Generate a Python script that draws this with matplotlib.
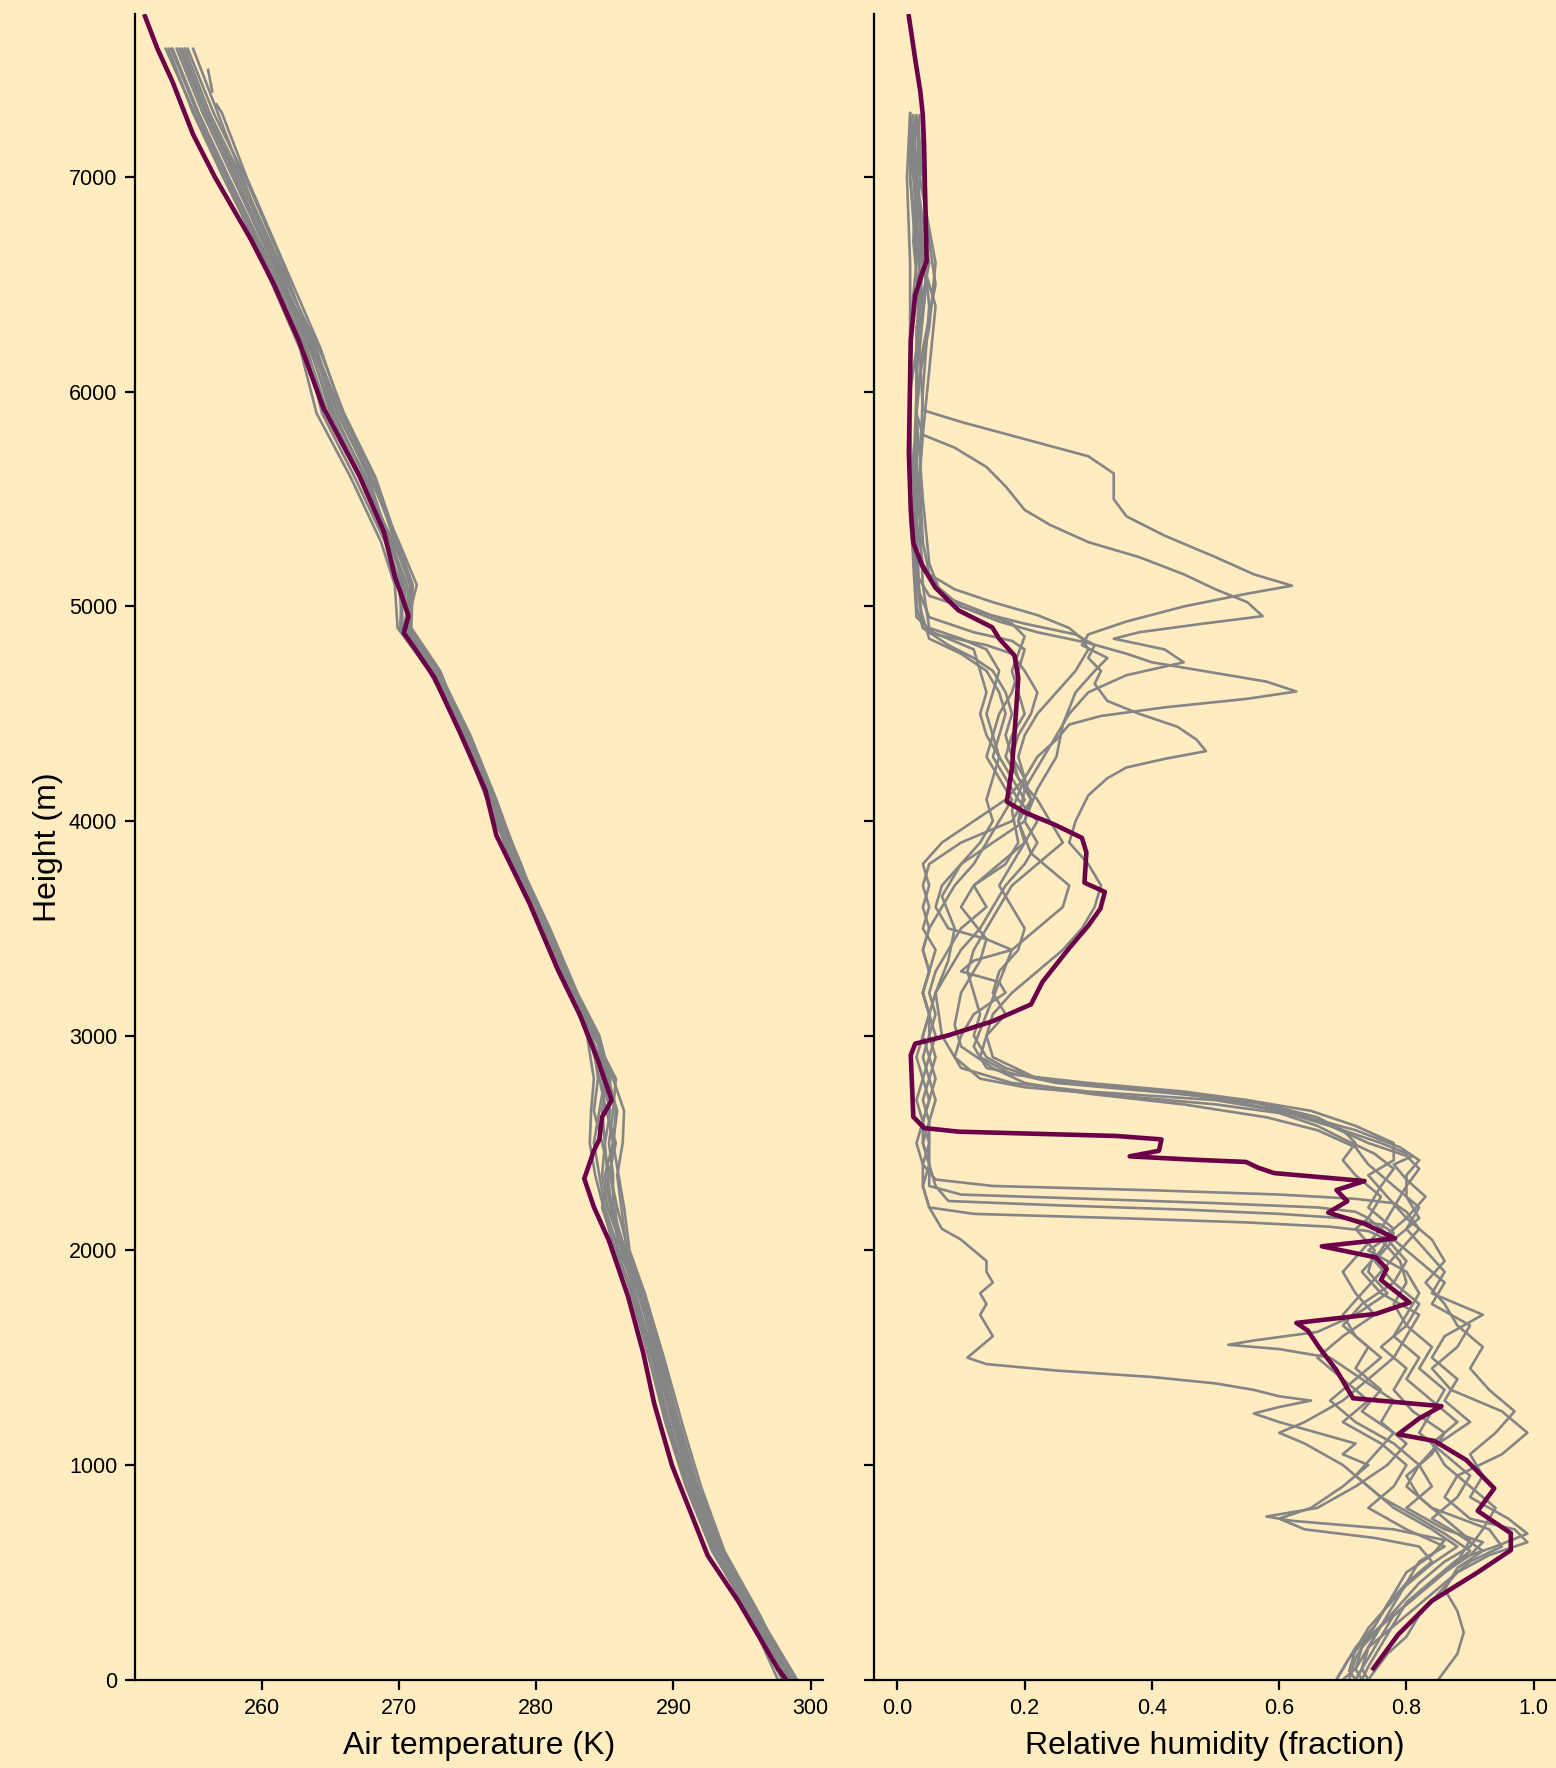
import numpy as np
import matplotlib
matplotlib.use("Agg")
import matplotlib.pyplot as plt

plt.rcParams['font.family'] = ['Liberation Sans', 'DejaVu Sans']

BG = '#FFECC1'
GREY = '#858585'
PURPLE = '#6B0049'

# ---------------- Temperature data ----------------
temp_heights = [7600, 7300, 7000, 6600, 6200, 5900, 5600, 5300, 5100, 4900, 4700, 4400,
                4100, 3800, 3500, 3200, 3000, 2800, 2650, 2500, 2350, 2200, 2000, 1800,
                1500, 1200, 900, 600, 300, 0]

temp_g1 = [253.5, 255.4, 257.6, 260.6, 263.5, 265.2, 267.6, 269.4, 270.6, 270.8, 272.8, 275.0, 276.8, 278.6, 280.8, 282.8, 284.0, 285.2, 285.9, 285.6, 285.0, 285.4, 286.2, 287.2, 288.6, 289.6, 291.2, 293.0, 295.8, 298.6]
temp_g2 = [254.0, 255.9, 258.1, 260.9, 263.9, 265.8, 268.0, 269.8, 271.0, 270.9, 273.0, 274.9, 276.6, 278.5, 280.9, 282.9, 284.3, 285.6, 286.4, 286.3, 285.9, 286.2, 286.6, 287.7, 289.0, 290.1, 291.5, 293.3, 296.0, 298.8]
temp_g3 = [253.2, 255.0, 257.2, 260.3, 263.2, 264.4, 266.8, 269.0, 270.2, 270.1, 272.4, 274.8, 276.9, 278.9, 280.6, 282.6, 284.1, 284.5, 284.2, 284.8, 285.4, 285.8, 285.9, 286.9, 288.2, 289.4, 290.9, 292.8, 295.6, 298.4]
temp_g4 = [254.4, 256.2, 258.5, 261.3, 264.0, 265.5, 267.9, 270.0, 271.3, 270.5, 272.6, 275.1, 277.0, 278.7, 280.7, 282.7, 284.4, 285.0, 284.6, 284.2, 284.6, 285.0, 286.0, 287.4, 288.9, 290.0, 291.4, 293.2, 295.9, 298.7]
temp_g5 = [253.0, 255.1, 257.4, 260.1, 262.8, 264.0, 266.5, 268.7, 269.7, 269.9, 272.2, 274.6, 276.4, 278.3, 280.5, 282.5, 283.7, 284.2, 284.0, 283.9, 284.3, 284.9, 285.7, 287.0, 288.4, 289.5, 291.0, 292.9, 295.5, 297.6]
temp_g6 = [253.8, 255.7, 257.9, 260.8, 263.6, 265.0, 267.3, 269.6, 270.9, 270.7, 272.9, 275.2, 277.1, 278.8, 281.0, 283.0, 284.6, 285.4, 285.2, 285.6, 286.0, 286.4, 286.8, 287.9, 289.2, 290.3, 291.7, 293.5, 296.1, 298.9]
temp_g7 = [255.0, 256.8, 258.6, 261.0, 263.7, 265.6, 267.8, 269.3, 270.4, 270.6, 272.7, 274.9, 276.7, 278.4, 280.6, 282.7, 284.0, 284.8, 285.4, 285.0, 284.8, 285.2, 286.3, 287.5, 288.7, 289.9, 291.3, 293.1, 295.7, 298.5]
temp_g8 = [254.6, 256.5, 258.8, 261.5, 263.8, 265.3, 267.5, 269.5, 270.3, 270.2, 272.5, 274.7, 276.6, 278.2, 280.4, 282.6, 284.2, 285.8, 285.6, 285.3, 285.6, 285.6, 286.4, 287.6, 288.8, 290.2, 291.6, 293.4, 295.9, 298.3]
temp_g9 = [253.4, 255.3, 257.5, 260.4, 263.3, 264.8, 267.2, 269.2, 270.0, 270.3, 272.3, 274.6, 276.5, 278.3, 280.5, 282.5, 283.9, 284.6, 285.1, 285.8, 285.3, 284.8, 285.8, 287.1, 288.5, 289.7, 291.1, 293.0, 295.6, 297.9]
temp_g10 = [254.2, 256.0, 258.3, 261.1, 264.2, 266.0, 268.3, 269.9, 271.0, 270.6, 272.8, 275.0, 276.8, 278.5, 280.8, 282.8, 284.5, 285.2, 284.8, 285.0, 285.2, 285.5, 286.5, 287.8, 289.1, 290.4, 291.8, 293.6, 296.2, 299.0]

# sounding with data gaps near its top
temp_gap_heights = [7500, 7400, 7380, 7340, 7300, 7000, 6600, 6200, 5900, 5600, 5300, 5100,
                    4900, 4700, 4400, 4100, 3800, 3500, 3200, 3000, 2800, 2650, 2500, 2350,
                    2200, 2000, 1800, 1500, 1200, 900, 600, 300, 0]
temp_gap = [256.1, 256.4, np.nan, 256.7, 257.1, 258.9, 261.6, 264.3, 265.9, 268.2, 269.7, 270.8,
            270.4, 272.6, 274.8, 276.7, 278.4, 280.7, 282.9, 284.3, 285.3, 285.8, 285.6, 285.4,
            285.9, 286.7, 287.9, 289.3, 290.6, 292.0, 293.7, 296.3, 298.6]

temp_main_heights = [7750, 7600, 7446, 7200, 7000, 6712, 6500, 6240, 5925, 5611, 5349, 5139,
                     5050, 4955, 4877, 4800, 4667, 4405, 4143, 3933, 3618, 3304, 3094, 2884,
                     2700, 2622, 2517, 2464, 2334, 2202, 2045, 1783, 1521, 1285, 996, 787,
                     577, 367, 52, 0]
temp_main = [251.5, 252.4, 253.5, 255.0, 256.6, 259.2, 260.9, 262.7, 264.5, 267.1, 268.9, 269.7,
             270.2, 270.7, 270.35, 271.2, 272.6, 274.5, 276.3, 277.1, 279.5, 281.6, 283.2, 284.5,
             285.5, 284.8, 284.6, 284.2, 283.5, 284.2, 285.3, 286.7, 287.8, 288.6, 289.9, 291.2,
             292.5, 294.7, 297.6, 298.2]

# ---------------- Relative humidity data (height m, RH fraction) ----------------
rh_g1 = [(7290,0.030),(7100,0.025),(6800,0.030),(6500,0.045),(6200,0.035),(5915,0.040),(5860,0.10),(5780,0.20),(5700,0.30),(5620,0.34),(5500,0.34),(5420,0.36),(5330,0.42),(5230,0.50),(5150,0.56),(5097,0.62),(5060,0.55),(5000,0.45),(4930,0.36),(4870,0.30),(4820,0.29),(4760,0.33),(4700,0.31),(4600,0.28),(4450,0.26),(4300,0.25),(4150,0.22),(4000,0.20),(3900,0.15),(3800,0.10),(3650,0.07),(3500,0.09),(3350,0.08),(3200,0.06),(3000,0.07),(2850,0.10),(2780,0.18),(2740,0.30),(2700,0.50),(2640,0.62),(2560,0.72),(2480,0.79),(2420,0.82),(2350,0.80),(2250,0.80),(2150,0.82),(2050,0.78),(1950,0.82),(1850,0.86),(1750,0.84),(1650,0.90),(1550,0.88),(1450,0.84),(1350,0.87),(1250,0.95),(1150,0.99),(1050,0.95),(950,0.88),(850,0.86),(750,0.90),(700,0.97),(640,0.99),(580,0.93),(500,0.88),(400,0.85),(300,0.82),(200,0.80),(120,0.77),(0,0.74)]
rh_g2 = [(7300,0.02),(7000,0.03),(6600,0.05),(6300,0.03),(5900,0.03),(5800,0.04),(5740,0.09),(5650,0.14),(5560,0.17),(5450,0.20),(5380,0.24),(5300,0.30),(5230,0.38),(5150,0.45),(5080,0.50),(5020,0.55),(4955,0.574),(4920,0.48),(4880,0.38),(4850,0.34),(4800,0.42),(4740,0.45),(4680,0.36),(4600,0.30),(4500,0.27),(4400,0.25),(4300,0.23),(4150,0.20),(4000,0.19),(3850,0.21),(3700,0.27),(3600,0.26),(3500,0.22),(3400,0.18),(3250,0.16),(3100,0.14),(2950,0.12),(2850,0.14),(2780,0.25),(2740,0.40),(2700,0.55),(2650,0.65),(2580,0.72),(2500,0.78),(2420,0.78),(2350,0.74),(2250,0.77),(2150,0.80),(2050,0.76),(1950,0.79),(1850,0.80),(1750,0.78),(1650,0.80),(1550,0.76),(1450,0.80),(1350,0.78),(1250,0.81),(1150,0.86),(1050,0.84),(950,0.80),(850,0.82),(750,0.86),(650,0.90),(550,0.88),(450,0.84),(350,0.80),(250,0.76),(150,0.74),(50,0.73),(0,0.72)]
rh_g3 = [(7250,0.03),(7000,0.02),(6600,0.03),(6300,0.02),(5800,0.02),(5400,0.03),(5200,0.04),(5100,0.06),(5000,0.10),(4930,0.16),(4880,0.22),(4830,0.30),(4780,0.36),(4740,0.40),(4700,0.48),(4650,0.58),(4604,0.627),(4570,0.55),(4530,0.42),(4490,0.32),(4450,0.27),(4380,0.25),(4300,0.22),(4200,0.20),(4050,0.18),(3900,0.19),(3800,0.17),(3700,0.12),(3600,0.10),(3450,0.14),(3350,0.13),(3200,0.10),(3050,0.09),(2950,0.10),(2850,0.15),(2780,0.20),(2730,0.30),(2680,0.45),(2620,0.58),(2560,0.66),(2480,0.72),(2400,0.74),(2300,0.78),(2200,0.82),(2100,0.80),(2000,0.83),(1900,0.86),(1800,0.84),(1700,0.92),(1600,0.86),(1500,0.84),(1400,0.88),(1300,0.86),(1200,0.90),(1100,0.85),(1000,0.82),(900,0.80),(800,0.84),(700,0.93),(620,0.95),(550,0.90),(450,0.86),(350,0.82),(250,0.78),(150,0.74),(50,0.72),(0,0.70)]
rh_g4 = [(7280,0.02),(7000,0.025),(6600,0.035),(6200,0.03),(5800,0.03),(5400,0.025),(5150,0.03),(5050,0.05),(4980,0.12),(4920,0.20),(4870,0.28),(4820,0.31),(4760,0.30),(4700,0.32),(4640,0.31),(4560,0.33),(4500,0.38),(4440,0.44),(4380,0.47),(4326,0.485),(4290,0.42),(4250,0.36),(4200,0.33),(4120,0.30),(4000,0.28),(3900,0.27),(3800,0.30),(3700,0.32),(3600,0.31),(3500,0.29),(3400,0.26),(3300,0.22),(3200,0.18),(3100,0.15),(3000,0.14),(2900,0.15),(2800,0.22),(2760,0.34),(2720,0.48),(2680,0.58),(2620,0.66),(2560,0.70),(2500,0.72),(2420,0.70),(2350,0.72),(2250,0.76),(2150,0.74),(2050,0.78),(1950,0.75),(1850,0.78),(1750,0.73),(1650,0.70),(1550,0.74),(1450,0.72),(1350,0.76),(1250,0.73),(1150,0.78),(1050,0.75),(950,0.72),(850,0.76),(750,0.82),(680,0.86),(600,0.90),(500,0.86),(400,0.82),(300,0.78),(200,0.74),(100,0.71),(0,0.69)]
rh_g5 = [(7290,0.035),(7000,0.03),(6700,0.04),(6400,0.05),(6000,0.04),(5600,0.035),(5300,0.04),(5150,0.05),(5080,0.09),(5020,0.15),(4960,0.22),(4900,0.27),(4850,0.29),(4800,0.30),(4700,0.28),(4600,0.25),(4500,0.22),(4400,0.20),(4300,0.19),(4200,0.20),(4100,0.21),(4000,0.19),(3900,0.20),(3800,0.18),(3700,0.16),(3600,0.18),(3500,0.20),(3400,0.19),(3300,0.16),(3200,0.15),(3100,0.17),(3000,0.14),(2900,0.13),(2820,0.18),(2780,0.30),(2740,0.45),(2700,0.55),(2640,0.62),(2580,0.68),(2500,0.74),(2440,0.80),(2380,0.82),(2300,0.80),(2200,0.78),(2100,0.76),(2000,0.73),(1900,0.70),(1800,0.72),(1700,0.75),(1600,0.70),(1500,0.66),(1400,0.70),(1300,0.74),(1200,0.70),(1100,0.76),(1000,0.80),(900,0.78),(800,0.74),(700,0.80),(620,0.86),(550,0.82),(450,0.80),(350,0.78),(250,0.76),(150,0.73),(50,0.72),(0,0.73)]
rh_g6 = [(7300,0.02),(7000,0.015),(6600,0.02),(6200,0.02),(5800,0.02),(5400,0.02),(5100,0.03),(4950,0.05),(4880,0.12),(4840,0.18),(4800,0.20),(4700,0.19),(4600,0.18),(4500,0.16),(4400,0.15),(4300,0.14),(4200,0.16),(4100,0.18),(4000,0.16),(3900,0.14),(3800,0.12),(3700,0.09),(3600,0.07),(3500,0.05),(3400,0.04),(3300,0.05),(3200,0.04),(3100,0.05),(3000,0.04),(2900,0.03),(2800,0.04),(2700,0.03),(2600,0.04),(2500,0.03),(2400,0.04),(2300,0.04),(2200,0.05),(2100,0.07),(2050,0.10),(2000,0.12),(1950,0.14),(1900,0.14),(1850,0.15),(1800,0.13),(1750,0.14),(1700,0.13),(1650,0.14),(1600,0.15),(1550,0.13),(1500,0.11),(1470,0.14),(1440,0.25),(1410,0.40),(1380,0.50),(1350,0.56),(1320,0.60),(1300,0.65),(1270,0.60),(1240,0.56),(1200,0.60),(1150,0.66),(1100,0.72),(1050,0.70),(1000,0.74),(900,0.70),(800,0.65),(750,0.60),(700,0.64),(660,0.75),(620,0.82),(550,0.84),(450,0.80),(350,0.77),(250,0.75),(150,0.72),(50,0.70),(0,0.69)]
rh_g7 = [(7270,0.03),(7000,0.035),(6600,0.06),(6300,0.05),(6000,0.03),(5700,0.03),(5400,0.035),(5100,0.04),(4900,0.05),(4850,0.10),(4800,0.14),(4700,0.16),(4600,0.15),(4500,0.14),(4400,0.15),(4300,0.16),(4200,0.18),(4100,0.20),(4000,0.18),(3900,0.10),(3800,0.05),(3700,0.04),(3600,0.05),(3500,0.04),(3400,0.06),(3300,0.05),(3200,0.04),(3100,0.05),(3000,0.05),(2900,0.04),(2800,0.05),(2700,0.04),(2600,0.05),(2500,0.04),(2400,0.05),(2300,0.05),(2260,0.10),(2240,0.30),(2220,0.50),(2200,0.66),(2180,0.72),(2150,0.74),(2100,0.72),(2000,0.75),(1900,0.74),(1800,0.77),(1700,0.72),(1620,0.66),(1580,0.56),(1560,0.52),(1540,0.60),(1500,0.68),(1400,0.73),(1300,0.78),(1200,0.76),(1100,0.80),(1000,0.77),(900,0.72),(800,0.66),(760,0.58),(740,0.62),(700,0.78),(650,0.86),(580,0.84),(500,0.80),(400,0.78),(300,0.76),(200,0.74),(100,0.72),(0,0.71)]
rh_g8 = [(7290,0.025),(7000,0.03),(6600,0.04),(6200,0.03),(5800,0.03),(5400,0.03),(5000,0.035),(4850,0.05),(4780,0.10),(4700,0.14),(4600,0.16),(4500,0.17),(4400,0.16),(4300,0.15),(4200,0.17),(4100,0.19),(4000,0.22),(3900,0.20),(3800,0.16),(3700,0.12),(3600,0.14),(3500,0.10),(3400,0.08),(3300,0.06),(3200,0.05),(3100,0.06),(3000,0.05),(2900,0.06),(2800,0.05),(2700,0.06),(2600,0.05),(2500,0.05),(2400,0.05),(2300,0.06),(2230,0.08),(2210,0.25),(2190,0.45),(2170,0.60),(2150,0.70),(2120,0.76),(2080,0.78),(2000,0.74),(1900,0.80),(1800,0.82),(1700,0.80),(1600,0.78),(1500,0.82),(1400,0.80),(1300,0.84),(1200,0.88),(1100,0.84),(1000,0.86),(900,0.90),(800,0.94),(700,0.92),(620,0.90),(550,0.86),(450,0.82),(350,0.79),(250,0.76),(150,0.74),(50,0.73),(0,0.74)]
rh_g9 = [(7260,0.02),(7000,0.02),(6700,0.03),(6400,0.04),(6000,0.02),(5600,0.02),(5200,0.025),(4950,0.03),(4870,0.06),(4820,0.14),(4780,0.18),(4700,0.20),(4600,0.22),(4500,0.21),(4400,0.19),(4300,0.18),(4200,0.19),(4100,0.21),(4000,0.20),(3900,0.22),(3800,0.20),(3700,0.17),(3600,0.15),(3500,0.13),(3400,0.10),(3300,0.08),(3200,0.06),(3100,0.05),(3000,0.04),(2900,0.05),(2800,0.04),(2700,0.05),(2600,0.04),(2500,0.04),(2400,0.05),(2300,0.04),(2200,0.05),(2170,0.12),(2150,0.35),(2130,0.55),(2110,0.68),(2090,0.74),(2050,0.77),(1950,0.80),(1850,0.78),(1750,0.82),(1650,0.80),(1550,0.84),(1450,0.82),(1350,0.86),(1250,0.84),(1150,0.82),(1050,0.86),(950,0.90),(850,0.88),(750,0.84),(680,0.88),(600,0.92),(520,0.88),(420,0.86),(320,0.88),(220,0.89),(120,0.88),(0,0.85)]
rh_g10 = [(7300,0.04),(7000,0.035),(6700,0.03),(6400,0.06),(6100,0.05),(5800,0.04),(5400,0.03),(5000,0.03),(4900,0.04),(4850,0.08),(4800,0.12),(4700,0.13),(4600,0.14),(4500,0.13),(4400,0.14),(4300,0.16),(4200,0.15),(4100,0.14),(4000,0.15),(3900,0.13),(3800,0.10),(3700,0.07),(3600,0.06),(3500,0.08),(3450,0.14),(3400,0.18),(3350,0.12),(3300,0.10),(3250,0.16),(3200,0.17),(3100,0.12),(3000,0.10),(2900,0.09),(2850,0.11),(2800,0.13),(2760,0.20),(2720,0.35),(2680,0.50),(2640,0.60),(2580,0.66),(2520,0.70),(2450,0.75),(2380,0.78),(2300,0.76),(2200,0.74),(2100,0.78),(2000,0.76),(1900,0.73),(1800,0.76),(1700,0.82),(1600,0.80),(1500,0.78),(1400,0.74),(1300,0.70),(1200,0.64),(1150,0.60),(1100,0.64),(1000,0.70),(900,0.74),(800,0.78),(700,0.84),(620,0.88),(540,0.84),(440,0.80),(340,0.77),(240,0.74),(140,0.72),(40,0.71),(0,0.72)]
rh_g11 = [(7280,0.03),(7000,0.04),(6700,0.05),(6500,0.06),(6200,0.04),(5900,0.03),(5500,0.04),(5200,0.05),(5050,0.07),(4980,0.13),(4920,0.18),(4860,0.20),(4780,0.19),(4700,0.18),(4600,0.19),(4500,0.20),(4400,0.18),(4300,0.17),(4200,0.19),(4100,0.22),(4000,0.24),(3900,0.26),(3800,0.22),(3700,0.18),(3600,0.16),(3500,0.14),(3400,0.12),(3300,0.11),(3200,0.12),(3100,0.13),(3000,0.12),(2900,0.14),(2850,0.17),(2800,0.22),(2770,0.30),(2740,0.42),(2700,0.52),(2650,0.60),(2580,0.68),(2500,0.76),(2440,0.81),(2400,0.78),(2330,0.80),(2250,0.83),(2150,0.80),(2050,0.84),(1950,0.86),(1850,0.83),(1750,0.86),(1650,0.88),(1550,0.92),(1450,0.90),(1350,0.93),(1250,0.97),(1150,0.94),(1050,0.90),(950,0.92),(850,0.90),(750,0.96),(680,0.99),(620,0.94),(560,0.88),(460,0.84),(360,0.80),(260,0.78),(160,0.76),(60,0.74),(0,0.73)]
rh_g12 = [(7250,0.025),(7000,0.03),(6700,0.025),(6400,0.035),(6000,0.03),(5600,0.025),(5200,0.03),(4900,0.04),(4820,0.08),(4760,0.12),(4700,0.15),(4600,0.17),(4500,0.18),(4400,0.17),(4300,0.18),(4200,0.20),(4100,0.17),(4000,0.12),(3900,0.07),(3800,0.04),(3700,0.05),(3600,0.04),(3500,0.05),(3400,0.04),(3300,0.05),(3200,0.04),(3100,0.05),(3000,0.06),(2900,0.05),(2800,0.06),(2700,0.05),(2600,0.04),(2500,0.05),(2400,0.04),(2330,0.06),(2300,0.15),(2280,0.40),(2260,0.60),(2240,0.72),(2220,0.78),(2180,0.80),(2100,0.82),(2000,0.79),(1900,0.76),(1800,0.73),(1700,0.70),(1600,0.72),(1500,0.76),(1400,0.72),(1300,0.68),(1200,0.72),(1100,0.78),(1000,0.82),(900,0.84),(800,0.80),(700,0.86),(640,0.92),(580,0.90),(500,0.86),(400,0.82),(300,0.78),(200,0.76),(100,0.74),(0,0.72)]

rh_main = [(7750,0.018),(7550,0.028),(7400,0.036),(7290,0.040),(7150,0.042),(7000,0.043),(6610,0.046),(6555,0.039),(6450,0.028),(6240,0.021),(5716,0.018),(5454,0.021),(5296,0.025),(5190,0.039),(5087,0.06),(4982,0.096),(4903,0.149),(4850,0.16),(4772,0.184),(4667,0.19),(4405,0.184),(4248,0.180),(4090,0.172),(4038,0.202),(3985,0.246),(3922,0.29),(3854,0.297),(3713,0.294),(3670,0.326),(3592,0.319),(3513,0.30),(3408,0.27),(3251,0.228),(3146,0.21),(3067,0.149),(3000,0.078),(2963,0.028),(2910,0.021),(2622,0.025),(2570,0.042),(2553,0.096),(2533,0.344),(2517,0.415),(2464,0.411),(2438,0.365),(2422,0.468),(2412,0.548),(2386,0.566),(2360,0.592),(2323,0.734),(2281,0.69),(2229,0.707),(2176,0.677),(2124,0.734),(2056,0.782),(2019,0.667),(1967,0.752),(1914,0.769),(1862,0.76),(1757,0.805),(1704,0.752),(1662,0.627),(1626,0.645),(1547,0.663),(1442,0.69),(1311,0.716),(1274,0.855),(1217,0.82),(1143,0.787),(1112,0.844),(1023,0.894),(891,0.938),(786,0.912),(682,0.964),(603,0.964),(498,0.911),(367,0.84),(210,0.787),(52,0.748)]

temp_gray_lines = [temp_g1, temp_g2, temp_g3, temp_g4, temp_g5, temp_g6, temp_g7, temp_g8, temp_g9, temp_g10]
rh_gray_lines = [rh_g1, rh_g2, rh_g3, rh_g4, rh_g5, rh_g6, rh_g7, rh_g8, rh_g9, rh_g10, rh_g11, rh_g12]

yticks = [0, 1000, 2000, 3000, 4000, 5000, 6000, 7000]
temp_ticks = [260, 270, 280, 290, 300]
rh_ticks = [0.0, 0.2, 0.4, 0.6, 0.8, 1.0]

# ---------------- Figure ----------------
W, H = 1556, 1768
fig = plt.figure(figsize=(W / 100, H / 100), dpi=100, facecolor=BG)
ax1 = fig.add_axes([0.087, 0.050, 0.442, 0.942], facecolor=BG)
ax2 = fig.add_axes([0.5616, 0.050, 0.4384, 0.942], facecolor=BG, sharey=ax1)

GLW, PLW = 1.9, 3.3
for t in temp_gray_lines:
    ax1.plot(t, temp_heights, color=GREY, lw=GLW, solid_joinstyle='round', solid_capstyle='round')
ax1.plot(temp_gap, temp_gap_heights, color=GREY, lw=GLW)
ax1.plot(temp_main, temp_main_heights, color=PURPLE, lw=PLW, solid_joinstyle='round')

for line in rh_gray_lines:
    a = np.array(line)
    ax2.plot(a[:, 1], a[:, 0], color=GREY, lw=GLW, solid_joinstyle='round', solid_capstyle='round')
m = np.array(rh_main)
ax2.plot(m[:, 1], m[:, 0], color=PURPLE, lw=PLW, solid_joinstyle='round')

ax1.set_xlim(250.8, 300.9)
ax2.set_xlim(-0.037, 1.035)
ax1.set_ylim(0, 7760)
ax1.set_yticks(yticks)
ax1.set_xticks(temp_ticks)
ax2.set_xticks(rh_ticks)
ax2.set_xticklabels([f"{v:.1f}" for v in rh_ticks])
ax2.tick_params(labelleft=False)

for ax in (ax1, ax2):
    for s in ('top', 'right'):
        ax.spines[s].set_visible(False)
    for s in ('left', 'bottom'):
        ax.spines[s].set_linewidth(1.6)
    ax.tick_params(direction='out', length=7, width=1.6, labelsize=15.5, pad=6)

ax1.set_xlabel('Air temperature (K)', fontsize=23, labelpad=9)
ax2.set_xlabel('Relative humidity (fraction)', fontsize=23, labelpad=9)
ax1.set_ylabel('Height (m)', fontsize=23, labelpad=4)

fig.savefig('out.png', dpi=100, facecolor=BG)
